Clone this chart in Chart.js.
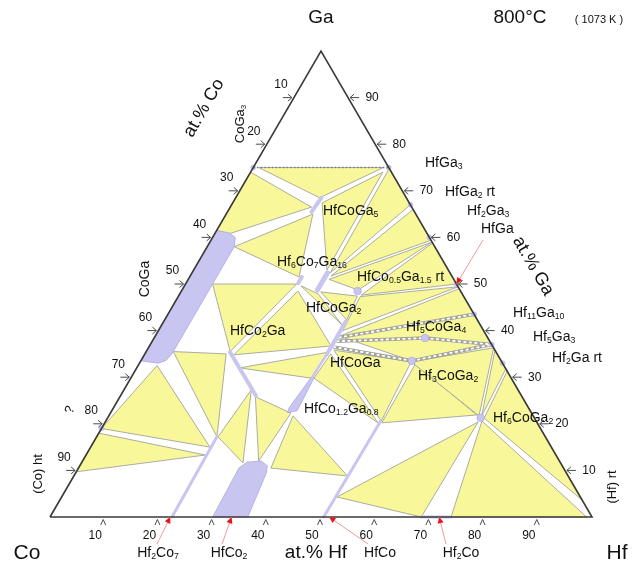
<!DOCTYPE html>
<html>
<head>
<meta charset="utf-8">
<title>Co–Hf–Ga isothermal section at 800 °C</title>
<script src="https://cdn.jsdelivr.net/npm/chart.js@4.4.1/dist/chart.umd.min.js"></script>
<style>
  html, body { margin: 0; padding: 0; background: #ffffff; }
  #box { width: 633px; height: 571px; }
</style>
</head>
<body>
<div id="box"><canvas id="chart" width="633" height="571"></canvas></div>
<script>
// All compositions are [at.% Hf, at.% Ga]; Co is the balance.

const triangleOutline = [[0, 0], [100, 0], [0, 100], [0, 0]];
const axisTicks = [10, 20, 30, 40, 50, 60, 70, 80, 90];

// three-phase fields
const threePhaseFields = [
  [[1, 75], [24, 75], [15.5, 68.5]],                 // CoGa3 + HfGa3 + HfCoGa5
  [[0, 74], [15, 66.5], [2.5, 60.7], [0, 61.5]],     // CoGa3 + HfCoGa5 + CoGa
  [[5, 58], [16, 65], [20.2, 51.5]],                 // CoGa + HfCoGa5 + Hf6Co7Ga16
  [[5, 50], [20.5, 50], [15.5, 35.5]],               // CoGa + Hf6Co7Ga16 + HfCo2Ga
  [[5, 35.5], [15, 35], [22.2, 17.2]],               // CoGa + HfCo2Ga + Hf2Co7
  [[3.5, 32.5], [0, 19], [22, 15]],                  // CoGa + ? + Hf2Co7
  [[0, 18], [22, 13.3], [0, 9.7]],                   // ? + Hf2Co7 + (Co)
  [[23.5, 27.3], [22.4, 17.2], [29.8, 11.6]],        // HfCo2Ga + Hf2Co7 + HfCo2
  [[25, 25.8], [32.5, 12], [33.3, 22.3]],            // HfCo2Ga + HfCo2 + HfCo1.2Ga0.8
  [[35.5, 10.5], [34, 21.7], [50.5, 8.8]],           // HfCo2 + HfCo1.2Ga0.8 + HfCo
  [[16.5, 67.4], [24.4, 74], [24.6, 53]],            // HfCoGa5 + HfGa3 + HfCoGa2
  [[25.5, 52.4], [25.2, 74.8], [33, 67]],            // HfCoGa2 + HfGa3 + HfGa2
  [[26, 51.7], [34, 66], [40.6, 59.4]],              // HfCoGa2 + HfGa2 + Hf2Ga3
  [[26, 51], [41, 59], [32.5, 48.7]],                // HfCoGa2 + Hf2Ga3 + HfCo0.5Ga1.5
  [[33.6, 47.6], [41.2, 58.8], [50, 50]],            // HfCo0.5Ga1.5 + Hf2Ga3 + HfGa
  [[33.6, 47.3], [34, 40], [50.6, 49.4]],            // HfCo0.5Ga1.5 + HfCoGa + HfGa
  [[34, 38.8], [51, 49], [56.5, 43.5], [63, 37], [50, 33.5]], // HfCoGa fan to Hf11Ga10 / Hf5Ga3
  [[50, 33.3], [63.7, 36.3], [68.3, 21.7]],          // Hf3CoGa2 + Hf5Ga3 + Hf6CoGa2
  [[64.2, 35.8], [68.2, 31.8], [68.8, 21.7]],        // Hf5Ga3 + Hf2Ga + Hf6CoGa2
  [[68.7, 31.3], [69.5, 21.2], [96.4, 3.6]],         // Hf2Ga + Hf6CoGa2 + (Hf)
  [[69.4, 20.6], [99, 0], [74, 0]],                  // Hf6CoGa2 + (Hf) + Hf2Co
  [[50.8, 4.3], [68.5, 0], [68.8, 20.4]],            // HfCo + Hf2Co + Hf6CoGa2
  [[34.5, 35.8], [50, 33.3], [50.8, 20.6]],          // HfCoGa + Hf3CoGa2 + HfCo
  [[34.3, 35], [33.8, 29.8], [50.4, 20.2]],          // HfCoGa + HfCo1.2Ga0.8 + HfCo
  [[51, 32.8], [51.1, 20.2], [67.8, 21.9]],          // Hf3CoGa2 + HfCo + Hf6CoGa2
  [[21.5, 49.6], [25.5, 47.9], [33.3, 41.2]],        // Hf6Co7Ga16 + HfCoGa2 + HfCoGa
  [[25.8, 48.3], [33, 47.4], [33.6, 42.3]],          // HfCoGa2 + HfCo0.5Ga1.5 + HfCoGa
  [[21.5, 48.5], [33.5, 36.7], [16.5, 34.8]],        // Hf6Co7Ga16 + HfCoGa + HfCo2Ga
  [[19, 32], [33.8, 35.4], [33.3, 29.8]]             // HfCo2Ga + HfCoGa + HfCo1.2Ga0.8
];

// single-phase areas with a visible extent
const singlePhaseAreas = [
  [[0, 61.5], [2.5, 61], [4.2, 60], [5, 58], [5, 35], [4.6, 33.6], [3.5, 33], [0, 33.5]],   // CoGa
  [[30, 0], [29.6, 10.5], [30.5, 11.8], [33, 12], [34.6, 11], [35.2, 9.5], [36.5, 0]],      // HfCo2
  [[32.6, 22.4], [34.2, 22.8], [33.8, 30], [33.2, 30], [32.4, 23.5]]                         // HfCo1.2Ga0.8
];

// homogeneity ranges of line compounds
const homogeneityRanges = [
  [[15.5, 65.5], [15.8, 68.5]],   // HfCoGa5
  [[20.7, 50.2], [20.7, 51.5]],   // Hf6Co7Ga16
  [[25, 48.7], [25, 52.4]],       // HfCoGa2
  [[33.6, 35], [33.6, 42]],       // HfCoGa
  [[33.4, 30], [33.6, 35]],       // HfCoGa – HfCo1.2Ga0.8 link
  [[15.5, 35.4], [25, 26]],       // HfCo2Ga
  [[22.5, 0], [22.2, 17.2]],      // Hf2Co7
  [[50.5, 0], [50.7, 20.4]],      // HfCo
  [[68.5, 0], [74, 0]]            // Hf2Co
];

// compounds drawn as points
const ternaryCompounds = [[32.5, 48.5], [50, 38.4], [50, 33.5], [68.8, 21.3]];
const binaryCompounds = [[0, 75], [25, 75], [33, 67], [40, 60], [50, 50], [56.5, 43.5], [63, 37], [67, 33], [0, 19]];

// tentative tie lines
const tentativeTieLines = [
  [[34, 38.5], [56.5, 43.5]],
  [[34, 37.7], [50, 38.4]],
  [[50, 38.4], [63, 37]],
  [[34, 36.5], [50, 33.5]],
  [[50, 33.5], [63, 37]]
];
const upperBoundary = [[0, 75], [25, 75]];

// compounds pointed at on the binary edges
const arrowTargets = [[22.2, 0], [33.5, 0], [51.5, 0], [71.8, 0], [50, 50]];

// ---------------------------------------------------------------------------
const YELLOW = '#f8f89a';
const EDGE = '#a3a39b';
const LILAC = '#c9c5f1';
const LILAC_EDGE = '#a7a2df';
const FONT = '"Liberation Sans", Arial, Helvetica, sans-serif';

function toXY(p) { return { x: p[0] + p[1] / 2, y: p[1] }; }
function closedPath(poly) { return poly.concat([poly[0]]).map(toXY); }

const rangeWidths = [4, 4, 5, 4, 2.5, 4, 3, 3, 3];

const datasets = [];
threePhaseFields.forEach(poly => datasets.push({
  data: closedPath(poly), showLine: true, fill: 'shape', backgroundColor: YELLOW,
  borderColor: EDGE, borderWidth: 0.9, pointRadius: 0, tension: 0, order: 9, clip: false
}));
tentativeTieLines.forEach(line => {
  datasets.push({ data: line.map(toXY), showLine: true, borderColor: EDGE, borderWidth: 3.6,
    pointRadius: 0, order: 8, clip: false });
  datasets.push({ data: line.map(toXY), showLine: true, borderColor: '#ffffff', borderWidth: 1.8,
    borderDash: [3, 2.5], pointRadius: 0, order: 7, clip: false });
});
singlePhaseAreas.forEach(poly => datasets.push({
  data: closedPath(poly), showLine: true, fill: 'shape', backgroundColor: LILAC,
  borderColor: LILAC_EDGE, borderWidth: 0.7, pointRadius: 0, tension: 0, order: 5, clip: false
}));
homogeneityRanges.forEach((seg, i) => datasets.push({
  data: seg.map(toXY), showLine: true, borderColor: LILAC, borderWidth: rangeWidths[i],
  borderCapStyle: 'round', pointRadius: 0, order: 4, clip: false
}));
datasets.push({ data: ternaryCompounds.map(toXY), showLine: false, pointRadius: 3.8,
  pointBackgroundColor: LILAC, pointBorderColor: LILAC_EDGE, pointBorderWidth: 0.6, order: 3, clip: false });
datasets.push({ data: binaryCompounds.map(toXY), showLine: false, pointRadius: 2.4,
  pointBackgroundColor: LILAC, pointBorderColor: LILAC_EDGE, pointBorderWidth: 0.5, order: 3, clip: false });
datasets.push({ data: upperBoundary.map(toXY), showLine: true, borderColor: '#7a7a7a', borderWidth: 1.3,
  borderDash: [1.5, 2.2], pointRadius: 0, order: 2, clip: false });
datasets.push({ data: triangleOutline.map(toXY), showLine: true, borderColor: '#3a3a3a', borderWidth: 1.6,
  pointRadius: 0, order: 1, clip: false });

// ---------------------------------------------------------------------------
// text helpers: "_" followed by digits marks a subscript
function tokens(str) {
  const out = [];
  const re = /_([0-9.]+)|([^_]+?)(?=_[0-9.]|$)/g;
  let m;
  while ((m = re.exec(str)) !== null) {
    if (m[1] !== undefined) out.push({ t: m[1], sub: true });
    else out.push({ t: m[2], sub: false });
  }
  return out;
}
function richWidth(ctx, str, size) {
  let w = 0;
  for (const tk of tokens(str)) {
    ctx.font = (tk.sub ? size * 0.62 : size) + 'px ' + FONT;
    w += ctx.measureText(tk.t).width;
  }
  return w;
}
function drawRich(ctx, str, x, y, size, align, color) {
  const w = richWidth(ctx, str, size);
  let cx = align === 'center' ? x - w / 2 : (align === 'right' ? x - w : x);
  ctx.fillStyle = color || '#111';
  ctx.textBaseline = 'middle';
  ctx.textAlign = 'left';
  for (const tk of tokens(str)) {
    const s = tk.sub ? size * 0.62 : size;
    ctx.font = s + 'px ' + FONT;
    ctx.fillText(tk.t, cx, tk.sub ? y + size * 0.28 : y);
    cx += ctx.measureText(tk.t).width;
  }
}
function drawRotated(ctx, str, x, y, size, angleDeg) {
  ctx.save();
  ctx.translate(x, y);
  ctx.rotate(angleDeg * Math.PI / 180);
  drawRich(ctx, str, 0, 0, size, 'center');
  ctx.restore();
}

// label placement, pixel anchors: [text, x, y, size, align]
const fieldLabelLayout = [
  ['HfCoGa_5', 323, 211, 14, 'left'],
  ['Hf_6Co_7Ga_16', 277, 262, 14, 'left'],
  ['HfCo_0.5Ga_1.5 rt', 357, 277, 14, 'left'],
  ['HfCoGa_2', 306, 308, 14, 'left'],
  ['HfCo_2Ga', 230, 331, 14, 'left'],
  ['Hf_5CoGa_4', 406, 327, 14, 'left'],
  ['HfCoGa', 330, 363, 14, 'left'],
  ['Hf_3CoGa_2', 418, 376, 14, 'left'],
  ['HfCo_1.2Ga_0.8', 304, 409, 14, 'left'],
  ['Hf_6CoGa_2', 493, 418, 14, 'left'],
  ['HfGa_3', 425, 163, 14, 'left'],
  ['HfGa_2 rt', 445, 192, 14, 'left'],
  ['Hf_2Ga_3', 467, 211, 14, 'left'],
  ['HfGa', 481, 229, 14, 'left'],
  ['Hf_11Ga_10', 513, 313, 14, 'left'],
  ['Hf_5Ga_3', 533, 337, 14, 'left'],
  ['Hf_2Ga rt', 552, 358, 14, 'left'],
  ['Hf_2Co_7', 158, 553, 14, 'center'],
  ['HfCo_2', 229, 553, 14, 'center'],
  ['HfCo', 380, 553, 14, 'center'],
  ['Hf_2Co', 461, 553, 14, 'center'],
  ['at.% Hf', 316, 553, 19, 'center'],
  ['Co', 27, 553, 21, 'center'],
  ['Hf', 617, 553, 21, 'center'],
  ['Ga', 321, 18, 19, 'center'],
  ['800°C', 520, 18, 19, 'center'],
  ['( 1073 K )', 599, 20, 11, 'center']
];
const rotatedLabelLayout = [
  ['at.% Co', 204, 108, 18, -60],
  ['at.% Ga', 533, 266, 18, 60],
  ['CoGa_3', 240, 124, 13, -90],
  ['CoGa', 145, 279, 14, -90],
  ['(Co) ht', 38, 474, 13, -90],
  ['(Hf) rt', 612, 487, 13, -90],
  ['?', 70, 410, 13, -70]
];
const arrowLabelAnchors = [[157, 544], [222, 544], [368, 544], [446, 544], [483, 240]];

const decorPlugin = {
  id: 'decor',
  afterDraw(chart) {
    const ctx = chart.ctx;
    const xs = chart.scales.x, ys = chart.scales.y;
    const px = p => [xs.getPixelForValue(p[0] + p[1] / 2), ys.getPixelForValue(p[1])];
    ctx.save();
    ctx.strokeStyle = '#4a4a4a';
    ctx.lineWidth = 1;
    axisTicks.forEach(v => {
      // bottom: at.% Hf
      let [x, y] = px([v, 0]);
      ctx.beginPath();
      ctx.moveTo(x - 3.5, y + 8); ctx.lineTo(x - 1, y + 2.5); ctx.lineTo(x + 1.5, y + 8);
      ctx.stroke();
      drawRich(ctx, String(v), x - 9, y + 19, 12, 'center');
      // left: at.% Co
      [x, y] = px([0, 100 - v]);
      ctx.beginPath();
      ctx.moveTo(x - 11, y); ctx.lineTo(x - 2, y);
      ctx.moveTo(x - 6, y - 3.5); ctx.lineTo(x - 2, y); ctx.lineTo(x - 6, y + 3.5);
      ctx.stroke();
      drawRich(ctx, String(v), x - 13, y - 13, 12, 'center');
      // right: at.% Ga
      [x, y] = px([100 - v, v]);
      ctx.beginPath();
      ctx.moveTo(x + 11, y); ctx.lineTo(x + 2, y);
      ctx.moveTo(x + 6, y - 3.5); ctx.lineTo(x + 2, y); ctx.lineTo(x + 6, y + 3.5);
      ctx.stroke();
      drawRich(ctx, String(v), x + 24, y, 12, 'center');
    });
    // red pointers to binary compounds
    arrowTargets.forEach((t, i) => {
      const [tx, ty] = px(t);
      const [sx, sy] = arrowLabelAnchors[i];
      const a = Math.atan2(ty - sy, tx - sx);
      ctx.strokeStyle = '#f29a9a';
      ctx.lineWidth = 1;
      ctx.beginPath(); ctx.moveTo(sx, sy); ctx.lineTo(tx, ty); ctx.stroke();
      ctx.fillStyle = '#e8141b';
      ctx.beginPath();
      ctx.moveTo(tx, ty);
      ctx.lineTo(tx - 7 * Math.cos(a - 0.45), ty - 7 * Math.sin(a - 0.45));
      ctx.lineTo(tx - 7 * Math.cos(a + 0.45), ty - 7 * Math.sin(a + 0.45));
      ctx.closePath(); ctx.fill();
    });
    fieldLabelLayout.forEach(l => drawRich(ctx, l[0], l[1], l[2], l[3], l[4]));
    rotatedLabelLayout.forEach(l => drawRotated(ctx, l[0], l[1], l[2], l[3], l[4]));
    ctx.restore();
  }
};

new Chart(document.getElementById('chart'), {
  type: 'scatter',
  data: { datasets },
  options: {
    responsive: false,
    animation: false,
    devicePixelRatio: 1,
    events: [],
    layout: { padding: { left: 50, right: 41, top: 51, bottom: 54 } },
    scales: {
      x: { type: 'linear', min: 0, max: 100, display: false },
      y: { type: 'linear', min: 0, max: 100, display: false }
    },
    plugins: { legend: { display: false }, tooltip: { enabled: false } }
  },
  plugins: [decorPlugin]
});
</script>
</body>
</html>
